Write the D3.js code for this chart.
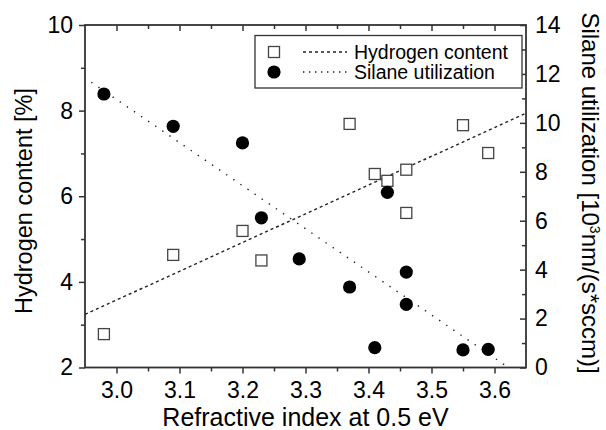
<!DOCTYPE html>
<html><head><meta charset="utf-8">
<script src="https://cdn.jsdelivr.net/npm/d3@7"></script>
<style>
body{margin:0;background:#fff;}
text{font-family:"Liberation Sans",Arial,sans-serif;fill:#000;}
</style></head>
<body><svg id="c" width="606" height="430"></svg>
<script>
// Data
const hX = [2.98, 3.09, 3.20, 3.23, 3.37, 3.41, 3.43, 3.46, 3.46, 3.55, 3.59];
const hY = [2.78, 4.63, 5.19, 4.50, 7.69, 6.52, 6.36, 6.62, 5.61, 7.66, 7.01];
const sX = [2.98, 3.09, 3.20, 3.23, 3.29, 3.37, 3.43, 3.46, 3.46, 3.41, 3.55, 3.59];
const sY = [11.18, 9.86, 9.18, 6.12, 4.44, 3.29, 7.16, 3.90, 2.58, 0.81, 0.72, 0.74];
const hFitX = [2.95, 3.65];
const hFitY = [3.24, 7.94];
const sFitX = [2.96, 3.622];
const sFitY = [11.66, 0.0];
const xTicks = [3.0, 3.1, 3.2, 3.3, 3.4, 3.5, 3.6];
const xMinor = [3.05, 3.15, 3.25, 3.35, 3.45, 3.55];
const yLTicks = [2, 4, 6, 8, 10];
const yLMinor = [3, 5, 7, 9];
const yRTicks = [0, 2, 4, 6, 8, 10, 12, 14];
const yRMinor = [1, 3, 5, 7, 9, 11, 13];
const legendLabels = ["Hydrogen content", "Silane utilization"];

const svg = d3.select("#c");
const m = {l:85, t:25, r:526, b:367.5};
const x = d3.scaleLinear().domain([2.95, 3.65]).range([m.l, m.r]);
const yL = d3.scaleLinear().domain([2, 10]).range([m.b, m.t]);
const yR = d3.scaleLinear().domain([0, 14]).range([m.b, m.t]);
const axCol = "#333";

function styleAx(g){
  g.select(".domain").remove();
  g.selectAll("line").attr("stroke", axCol).attr("stroke-width", 1.5);
  g.selectAll("text").style("font-size","23px").attr("fill","#000");
}
// bottom
svg.append("g").attr("transform",`translate(0,${m.b})`)
  .call(d3.axisBottom(x).tickValues(xTicks).tickSize(6).tickPadding(8).tickFormat(d3.format(".1f"))).call(styleAx);
svg.append("g").attr("transform",`translate(0,${m.b})`)
  .call(d3.axisBottom(x).tickValues(xMinor).tickSize(4).tickFormat("")).call(styleAx);
// top
svg.append("g").attr("transform",`translate(0,${m.t})`)
  .call(d3.axisTop(x).tickValues(xTicks).tickSize(-6).tickFormat("")).call(styleAx);
svg.append("g").attr("transform",`translate(0,${m.t})`)
  .call(d3.axisTop(x).tickValues(xMinor).tickSize(-4).tickFormat("")).call(styleAx);
// left
svg.append("g").attr("transform",`translate(${m.l},0)`)
  .call(d3.axisLeft(yL).tickValues(yLTicks).tickSize(6).tickPadding(6)).call(styleAx);
svg.append("g").attr("transform",`translate(${m.l},0)`)
  .call(d3.axisLeft(yL).tickValues(yLMinor).tickSize(4).tickFormat("")).call(styleAx);
// right
svg.append("g").attr("transform",`translate(${m.r},0)`)
  .call(d3.axisRight(yR).tickValues(yRTicks).tickSize(-6).tickPadding(9)).call(styleAx);
svg.append("g").attr("transform",`translate(${m.r},0)`)
  .call(d3.axisRight(yR).tickValues(yRMinor).tickSize(-4).tickFormat("")).call(styleAx);
// frame
svg.append("rect").attr("x",m.l).attr("y",m.t).attr("width",m.r-m.l).attr("height",m.b-m.t)
  .attr("fill","none").attr("stroke",axCol).attr("stroke-width",1.8);

// fit lines
const lineH = d3.line().x(d=>x(d[0])).y(d=>yL(d[1]));
const lineS = d3.line().x(d=>x(d[0])).y(d=>yR(d[1]));
svg.append("path").attr("d", lineH(hFitX.map((v,i)=>[v,hFitY[i]])))
  .attr("fill","none").attr("stroke","#222").attr("stroke-width",1.4).attr("stroke-dasharray","3,3");
svg.append("path").attr("d", lineS(sFitX.map((v,i)=>[v,sFitY[i]])))
  .attr("fill","none").attr("stroke","#222").attr("stroke-width",1.4).attr("stroke-dasharray","1.4,7.2");

// markers
const sq = 11;
svg.append("g").selectAll("rect").data(hX).join("rect")
  .attr("x",(d,i)=>x(d)-sq/2).attr("y",(d,i)=>yL(hY[i])-sq/2)
  .attr("width",sq).attr("height",sq).attr("fill","#fff").attr("stroke","#444").attr("stroke-width",1.3);
svg.append("g").selectAll("circle").data(sX).join("circle")
  .attr("cx",d=>x(d)).attr("cy",(d,i)=>yR(sY[i])).attr("r",6.6).attr("fill","#000");

// legend
const lg = svg.append("g");
lg.append("rect").attr("x",255).attr("y",35.5).attr("width",267).attr("height",52.5)
  .attr("fill","#fff").attr("stroke",axCol).attr("stroke-width",1.3);
lg.append("rect").attr("x",274-5.5).attr("y",52-5.5).attr("width",11).attr("height",11)
  .attr("fill","#fff").attr("stroke","#444").attr("stroke-width",1.3);
lg.append("circle").attr("cx",274).attr("cy",72).attr("r",6.6).attr("fill","#000");
lg.append("line").attr("x1",303).attr("x2",347).attr("y1",52).attr("y2",52)
  .attr("stroke","#222").attr("stroke-width",1.3).attr("stroke-dasharray","3,3");
lg.append("line").attr("x1",303).attr("x2",347).attr("y1",72).attr("y2",72)
  .attr("stroke","#222").attr("stroke-width",1.3).attr("stroke-dasharray","1.4,4.6");
lg.selectAll("text.lt").data(legendLabels).join("text").attr("class","lt")
  .attr("x",354).attr("y",(d,i)=>52+i*20).attr("dy","0.35em").style("font-size","19.5px").text(d=>d);

// axis titles
svg.append("text").attr("x",(m.l+m.r)/2).attr("y",426).attr("text-anchor","middle")
  .style("font-size","25px").text("Refractive index at 0.5 eV");
svg.append("text").attr("transform","translate(32,201) rotate(-90)").attr("text-anchor","middle")
  .style("font-size","23.5px").text("Hydrogen content [%]");
const rt = svg.append("text").attr("transform","translate(582,193) rotate(90)").attr("text-anchor","middle")
  .style("font-size","24px");
rt.append("tspan").text("Silane utilization [10");
rt.append("tspan").attr("baseline-shift","super").style("font-size","14px").text("3");
rt.append("tspan").text("nm/(s*sccm)]");
</script></body></html>
